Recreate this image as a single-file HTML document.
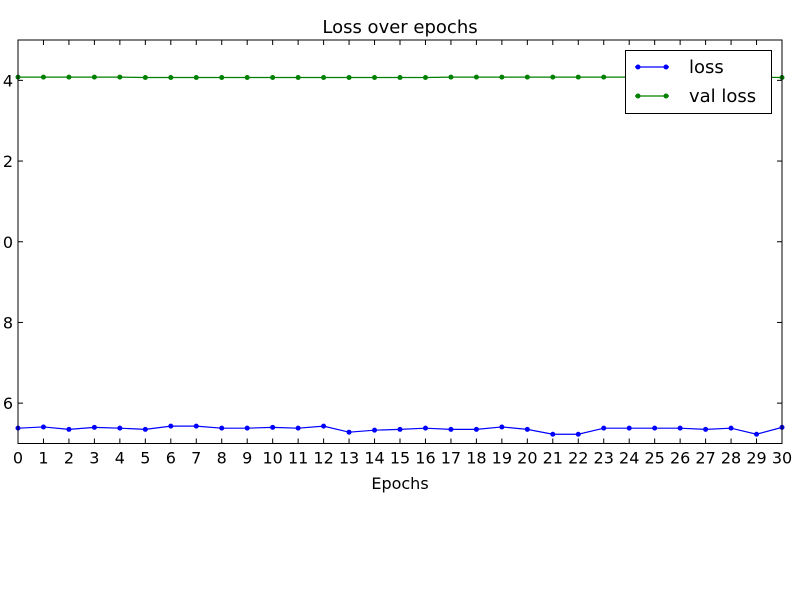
<!DOCTYPE html>
<html><head><meta charset="utf-8"><style>
body{margin:0;background:#fff;}
svg{display:block;font-family:"DejaVu Sans","Liberation Sans",sans-serif;}
</style></head><body>
<svg id="chart" width="800" height="600"><defs><clipPath id="yclip"><rect x="2" y="0" width="30" height="600"/></clipPath></defs></svg>
<script>
const epochs=[0,1,2,3,4,5,6,7,8,9,10,11,12,13,14,15,16,17,18,19,20,21,22,23,24,25,26,27,28,29,30];
const lossValues=[5.38,5.41,5.35,5.40,5.38,5.35,5.43,5.43,5.38,5.38,5.40,5.38,5.43,5.28,5.33,5.35,5.38,5.35,5.35,5.41,5.35,5.23,5.23,5.38,5.38,5.38,5.38,5.35,5.38,5.23,5.40];
const valLossValues=[14.08,14.08,14.08,14.08,14.08,14.07,14.07,14.07,14.07,14.07,14.07,14.07,14.07,14.07,14.07,14.07,14.07,14.08,14.08,14.08,14.08,14.08,14.08,14.08,14.08,14.08,14.08,14.08,14.08,14.08,14.07];
const yTicks=[6,8,10,12,14];
const yTickLabels=["6","8","10","12","14"];
const NS="http://www.w3.org/2000/svg";
const svg=document.getElementById('chart');
const L=18,R=782,T=40,B=443.5,xMin=0,xMax=30,yMin=5,yMax=15;
const xs=v=>L+(v-xMin)/(xMax-xMin)*(R-L);
const ys=v=>B-(v-yMin)/(yMax-yMin)*(B-T);
function mk(tag,attrs,parent){const e=document.createElementNS(NS,tag);for(const k in attrs)e.setAttribute(k,attrs[k]);(parent||svg).appendChild(e);return e;}
const title=mk('text',{x:400,y:33,'text-anchor':'middle','font-size':18});
title.textContent='Loss over epochs';


function series(vals,color,name){
  const g=mk('g',{});
  
  
  mk('polyline',{points:vals.map((v,i)=>xs(epochs[i])+','+ys(v)).join(' '),fill:'none',stroke:color,'stroke-width':1.2},g);
  vals.forEach((v,i)=>{const c=mk('circle',{cx:xs(epochs[i]),cy:ys(v),r:2.5,fill:color},g);
    
    });
}
series(valLossValues,'#008000','val-loss-line');
series(lossValues,'#0000ff','loss-line');
const frame=mk('rect',{x:L,y:T,width:R-L,height:B-T,fill:'none',stroke:'#000','stroke-width':1});


epochs.forEach(e=>{
  const x=xs(e);
  mk('line',{x1:x,x2:x,y1:B,y2:B-5,stroke:'#000'});
  mk('line',{x1:x,x2:x,y1:T,y2:T+5,stroke:'#000'});
  const t=mk('text',{x:x,y:B+20,'text-anchor':'middle','font-size':16});
  t.textContent=e;
  
  
});
const yl=mk('g',{'clip-path':'url(#yclip)'});


yTicks.forEach((v,i)=>{
  const y=ys(v);
  mk('line',{x1:L,x2:L+5,y1:y,y2:y,stroke:'#000'});
  mk('line',{x1:R,x2:R-5,y1:y,y2:y,stroke:'#000'});
  const t=mk('text',{x:13,y:y+6,'text-anchor':'end','font-size':16},yl);
  t.textContent=yTickLabels[i];
  
  
});
const xt=mk('text',{x:400,y:489,'text-anchor':'middle','font-size':16});
xt.textContent='Epochs';


const lg=mk('g',{});


mk('rect',{x:625.5,y:50.5,width:146,height:63,fill:'#fff',stroke:'#000'},lg);
[['loss','#0000ff',67],['val loss','#008000',96]].forEach(([n,c,y])=>{
  const e=mk('g',{},lg);
  
  
  mk('line',{x1:635,x2:669,y1:y,y2:y,stroke:c,'stroke-width':1.2},e);
  mk('circle',{cx:638,cy:y,r:2.5,fill:c},e);
  mk('circle',{cx:666,cy:y,r:2.5,fill:c},e);
  const t=mk('text',{x:689,y:y+6,'font-size':18},e);t.textContent=n;
});
</script>
</body></html>
